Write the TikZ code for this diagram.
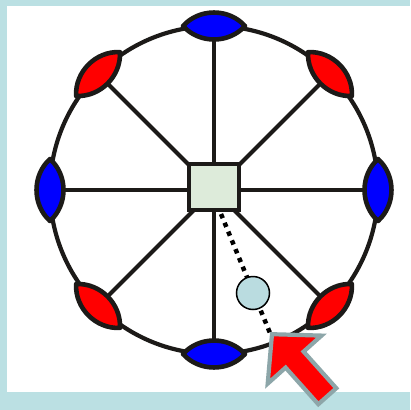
\documentclass[tikz,border=0pt]{standalone}
\usetikzlibrary{calc}
\definecolor{bordercyan}{HTML}{BBE0E3}
\definecolor{sqgreen}{HTML}{DDEBDA}
\definecolor{ballcyan}{HTML}{BADCE0}
\definecolor{arrowgray}{HTML}{8DA6A9}
\definecolor{linedark}{HTML}{1C1A18}
\definecolor{lensblue}{HTML}{0000FF}
\definecolor{lensred}{HTML}{FF0000}
\tikzset{
  spoke/.style={draw=linedark, line width=4.2pt},
  rim/.style={draw=linedark, line width=4.2pt},
  lensline/.style={draw=linedark, line width=4.6pt, line join=round},
  lens/.pic={\draw[lensline, fill=#1] (-31,0) to[bend left=48] (31,0) to[bend left=48] (-31,0) -- cycle;},
  hubbox/.style={draw=linedark, line width=4.4pt, fill=sqgreen, minimum width=50pt, minimum height=46pt, inner sep=0pt},
  ball/.style={circle, draw=black, line width=1.5pt, fill=ballcyan, minimum size=33pt, inner sep=0pt},
  dotline/.style={draw=black, line width=4.5pt, dash pattern=on 4.5pt off 5pt},
  bigarrow/.style={draw=arrowgray, fill=lensred, line width=4.2pt, line join=miter}
}
\begin{document}
\begin{tikzpicture}[x=1pt,y=-1pt]
\useasboundingbox (0,0) rectangle (410,410);
\fill[bordercyan] (0,0) rectangle (410,410);
\fill[white] (7,6) rectangle (410,392);
% centre and lens positions
\coordinate (C) at (214,190);
\foreach \i/\a in {0/0,1/45,2/90,3/135,4/180,5/225,6/270,7/315}{
  \coordinate (L\i) at ($(C)+({164*cos(\a)},{-164*sin(\a)})$);
}
% rim
\draw[rim] (C) circle[radius=164];
% spokes
\foreach \i in {0,...,7}{ \draw[spoke] (C) -- (L\i); }
% lenses
\pic at (L0) [rotate=90] {lens=lensblue};
\pic at (L2) {lens=lensblue};
\pic at (L4) [rotate=90] {lens=lensblue};
\pic at (L6) {lens=lensblue};
\pic at (L1) [rotate=-45] {lens=lensred};
\pic at (L3) [rotate=45] {lens=lensred};
\pic at (L5) [rotate=-45] {lens=lensred};
\pic at (L7) [rotate=45] {lens=lensred};
% hub
\node[hubbox] (S) at (214,187) {};
% dotted pointer
\coordinate (D0) at (221,214);
\coordinate (T) at (270,333);
\draw[dotline] (D0) -- (T);
\node[ball] (B) at (253,293) {};
% arrow
\draw[bigarrow] (272.0,334.2) -- (267.7,383.6) -- (285.6,367.6) -- (318.3,404.2)
  -- (336.3,388.2) -- (303.6,351.6) -- (321.5,335.6) -- cycle;
\end{tikzpicture}
\end{document}
